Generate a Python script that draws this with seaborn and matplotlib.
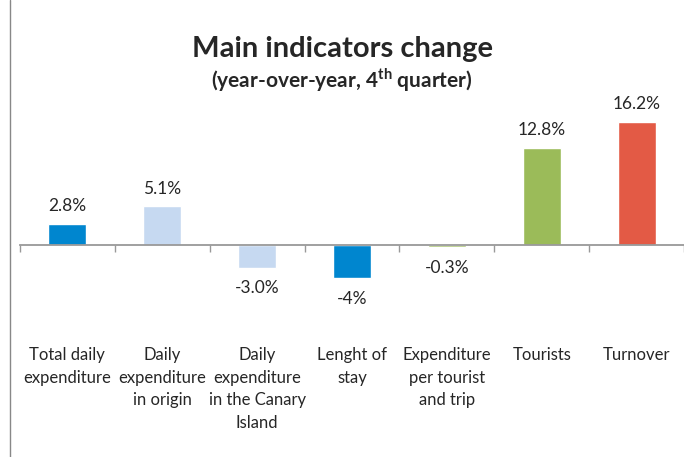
import matplotlib
matplotlib.use("Agg")
import pandas as pd
import seaborn as sns
import matplotlib.pyplot as plt
from matplotlib.lines import Line2D
from matplotlib.transforms import blended_transform_factory

categories = [
    "Total daily\nexpenditure",
    "Daily\nexpenditure\nin origin",
    "Daily\nexpenditure\nin the Canary\nIsland",
    "Lenght of\nstay",
    "Expenditure\nper tourist\nand trip",
    "Tourists",
    "Turnover",
]
values = [2.8, 5.1, -3.0, -4.4, -0.3, 12.8, 16.2]
value_labels = ["2.8%", "5.1%", "-3.0%", "-4%", "-0.3%", "12.8%", "16.2%"]
bar_colors = ["#0086CF", "#C6D9F1", "#C6D9F1", "#0086CF", "#9BBB59", "#9BBB59", "#E35A45"]

df = pd.DataFrame({"category": categories, "value": values})

sns.set_style("white")
plt.rcParams["font.family"] = ["Lato", "DejaVu Sans"]
plt.rcParams["mathtext.fontset"] = "custom"
plt.rcParams["mathtext.bf"] = "Lato:bold"
plt.rcParams["mathtext.rm"] = "Lato"

fig = plt.figure(figsize=(6.84, 4.57), dpi=100)
ax = fig.add_axes([20 / 684, 1 - 320 / 457, 664 / 684, 225 / 457])

sns.barplot(data=df, x="category", y="value", hue="category", palette=bar_colors,
            width=0.4, legend=False, ax=ax, saturation=1)

ax.set_xlim(-0.5, 6.5)
ax.set_ylim(-9.87, 19.74)
ax.set_xlabel("")
ax.set_ylabel("")
ax.set_yticks([])
ax.set_xticks([])
for s in ["top", "right", "left"]:
    ax.spines[s].set_visible(False)
ax.spines["bottom"].set_position(("data", 0))
ax.spines["bottom"].set_color("#999999")
ax.spines["bottom"].set_linewidth(1.3)
ax.set_xticks([i - 0.5 for i in range(8)], minor=True)
ax.tick_params(axis="x", which="minor", direction="out", length=5, width=1,
               color="#999999", bottom=True)

for i, (v, lab) in enumerate(zip(values, value_labels)):
    if v >= 0:
        ax.annotate(lab, (i, v), xytext=(0, 7), textcoords="offset points",
                    ha="center", va="bottom", fontsize=12.5)
    else:
        ax.annotate(lab, (i, v), xytext=(0, -9), textcoords="offset points",
                    ha="center", va="top", fontsize=12.5)

trans = blended_transform_factory(ax.transData, fig.transFigure)
for i, c in enumerate(categories):
    ax.text(i, 1 - 347 / 457, c, transform=trans, ha="center", va="top",
            fontsize=12, linespacing=1.5, clip_on=False)

fig.text(0.5, 1 - 49 / 457, "Main indicators change", ha="center", va="center",
         fontsize=21, fontweight="bold")
fig.text(0.5, 1 - 80 / 457, r"(year-over-year, 4$^{\mathbf{th}}$ quarter)",
         ha="center", va="center", fontsize=15, fontweight="bold")

fig.add_artist(Line2D([10 / 684, 10 / 684], [0, 1], transform=fig.transFigure,
                      color="#888888", linewidth=1))

fig.savefig("out.png", dpi=100)
